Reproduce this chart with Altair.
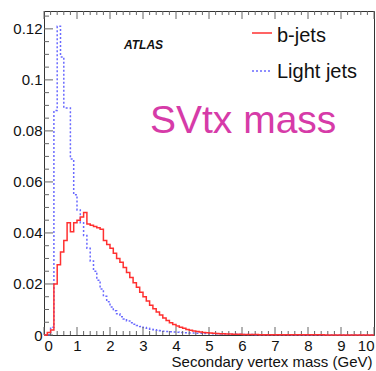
import altair as alt
import pandas as pd

# ---- data (bin width 0.1 GeV, bins starting at 0.0 ... 9.9) ----
bin_starts = [round(i * 0.1, 1) for i in range(100)]

bjets = [
    0.0, 0.001, 0.002, 0.020, 0.0275, 0.0325, 0.037, 0.044, 0.0405, 0.044,
    0.045, 0.0463, 0.048, 0.0435, 0.043, 0.0425, 0.042, 0.0415, 0.037, 0.0355,
    0.034, 0.032, 0.030, 0.0285, 0.0265, 0.0245, 0.0225, 0.0205, 0.0187, 0.0168,
    0.015, 0.0133, 0.0117, 0.0103, 0.009, 0.0078, 0.0067, 0.0057, 0.0048, 0.0041,
    0.0035, 0.0030, 0.0026, 0.0022, 0.0019, 0.0016, 0.0014, 0.0012, 0.0010, 0.0009,
    0.0008, 0.0007, 0.0006, 0.0005, 0.0005, 0.0004, 0.0004, 0.0003, 0.0003, 0.0003,
    0.0002, 0.0002, 0.0002, 0.0002, 0.0002, 0.0001, 0.0001, 0.0001, 0.0001, 0.0001,
    0.0001, 0.0001, 0.0001, 0.0001, 0.0001, 0.0001, 0.0001, 0.0001, 0.0001, 0.0001,
    0.0001, 0.0001, 0.0001, 0.0001, 0.0001, 0.0, 0.0, 0.0, 0.0, 0.0,
    0.0, 0.0, 0.0, 0.0, 0.0, 0.0, 0.0, 0.0, 0.0, 0.0,
]

light = [
    0.0, 0.0, 0.003, 0.088, 0.121, 0.109, 0.089, 0.089, 0.069, 0.055,
    0.049, 0.044, 0.039, 0.034, 0.029, 0.025, 0.0215, 0.018, 0.0152, 0.013,
    0.011, 0.0095, 0.0083, 0.0072, 0.0063, 0.0055, 0.0048, 0.0042, 0.0037, 0.0033,
    0.0029, 0.0026, 0.0023, 0.0021, 0.0019, 0.0017, 0.0015, 0.0014, 0.0013, 0.0012,
    0.0011, 0.0010, 0.0009, 0.0009, 0.0008, 0.0008, 0.0007, 0.0007, 0.0006, 0.0006,
    0.0005, 0.0005, 0.0005, 0.0004, 0.0004, 0.0004, 0.0003, 0.0003, 0.0003, 0.0003,
    0.0002, 0.0002, 0.0002, 0.0002, 0.0001, 0.0001, 0.0001, 0.0001, 0.0001, 0.0001,
    0.0001, 0.0001, 0.0001, 0.0001, 0.0001, 0.0, 0.0, 0.0, 0.0, 0.0,
    0.0, 0.0, 0.0, 0.0, 0.0, 0.0, 0.0, 0.0, 0.0, 0.0,
    0.0, 0.0, 0.0, 0.0, 0.0, 0.0, 0.0, 0.0, 0.0, 0.0,
]

x_major = [0, 1, 2, 3, 4, 5, 6, 7, 8, 9, 10]
x_minor = [round(i * 0.2, 1) for i in range(51) if i % 5 != 0]
y_major = [0, 0.02, 0.04, 0.06, 0.08, 0.1, 0.12]
y_minor = [round(i * 0.005, 3) for i in range(26) if i % 4 != 0]

# ---- layout ----
W, H = 330, 324
FONT = "Liberation Sans"
RED = "#ff3030"
BLUE = "#6a6aff"
TICK = "#666666"

def hist_df(vals):
    return pd.DataFrame({"x": bin_starts + [10.0], "y": list(vals) + [vals[-1]]})

xs = alt.Scale(domain=[0, 10], nice=False, zero=False)
ys = alt.Scale(domain=[0, 0.127], nice=False, zero=True)

x_axis = alt.Axis(
    values=x_major, format="d", tickSize=0, domain=False, grid=False,
    labelFont=FONT, labelFontSize=15, labelColor="#111", labelPadding=3,
    title="Secondary vertex mass (GeV)", titleFont=FONT, titleFontSize=15,
    titleFontWeight="normal", titleColor="#111", titleAnchor="end",
    titleAlign="right", titleX=W - 2, titleY=31, titleBaseline="alphabetic",
)
y_axis = alt.Axis(
    values=y_major, format="~g", tickSize=0, domain=False, grid=False,
    labelFont=FONT, labelFontSize=15, labelColor="#111", labelPadding=2,
    title="",
)

light_layer = alt.Chart(hist_df(light)).mark_line(
    interpolate="step-after", color=BLUE, strokeWidth=1.5, strokeDash=[2, 2]
).encode(
    x=alt.X("x:Q", scale=xs, axis=x_axis),
    y=alt.Y("y:Q", scale=ys, axis=y_axis),
)

b_layer = alt.Chart(hist_df(bjets)).mark_line(
    interpolate="step-after", color=RED, strokeWidth=1.5
).encode(
    x=alt.X("x:Q", scale=xs, axis=x_axis),
    y=alt.Y("y:Q", scale=ys, axis=y_axis),
)

def xticks(vals, y0, y1):
    return alt.Chart(pd.DataFrame({"t": vals})).mark_rule(color=TICK, strokeWidth=1).encode(
        x=alt.X("t:Q", scale=xs, axis=x_axis), y=alt.value(y0), y2=alt.value(y1)
    )

def yticks(vals, x0, x1):
    return alt.Chart(pd.DataFrame({"t": vals})).mark_rule(color=TICK, strokeWidth=1).encode(
        y=alt.Y("t:Q", scale=ys, axis=y_axis), x=alt.value(x0), x2=alt.value(x1)
    )

ticks = [
    xticks(x_major, H, H - 8), xticks(x_minor, H, H - 4),
    xticks(x_major, 0, 8), xticks(x_minor, 0, 4),
    yticks(y_major, 0, 9), yticks(y_minor, 0, 5),
]

def text(label, x, y, size, color="#111", weight="normal", style="normal"):
    return alt.Chart(pd.DataFrame({"label": [label]})).mark_text(
        font=FONT, fontSize=size, color=color, fontWeight=weight, fontStyle=style,
        align="left", baseline="alphabetic"
    ).encode(x=alt.value(x), y=alt.value(y), text="label:N")

def legline(y, color, dash):
    kw = dict(color=color, strokeWidth=1.5)
    if dash:
        kw["strokeDash"] = dash
    return alt.Chart(pd.DataFrame({"k": [0]})).mark_rule(**kw).encode(
        x=alt.value(208), x2=alt.value(228), y=alt.value(y)
    )

annotations = [
    text("ATLAS", 80, 38, 12, weight="bold", style="italic"),
    legline(22, RED, None),
    text("b-jets", 233, 31, 20),
    legline(60, BLUE, [2, 2]),
    text("Light jets", 233, 67, 20),
    text("SVtx mass", 106, 122, 39, color="#d63ba8"),
]

chart = alt.layer(light_layer, *ticks, b_layer, *annotations).properties(
    width=W, height=H,
    autosize=alt.AutoSizeParams(type="none"),
    padding={"left": 44, "top": 11, "right": 2, "bottom": 36},
).configure_view(stroke="#333333", strokeWidth=1)

chart.save("out.html", embed_options={"renderer": "svg", "actions": False})
